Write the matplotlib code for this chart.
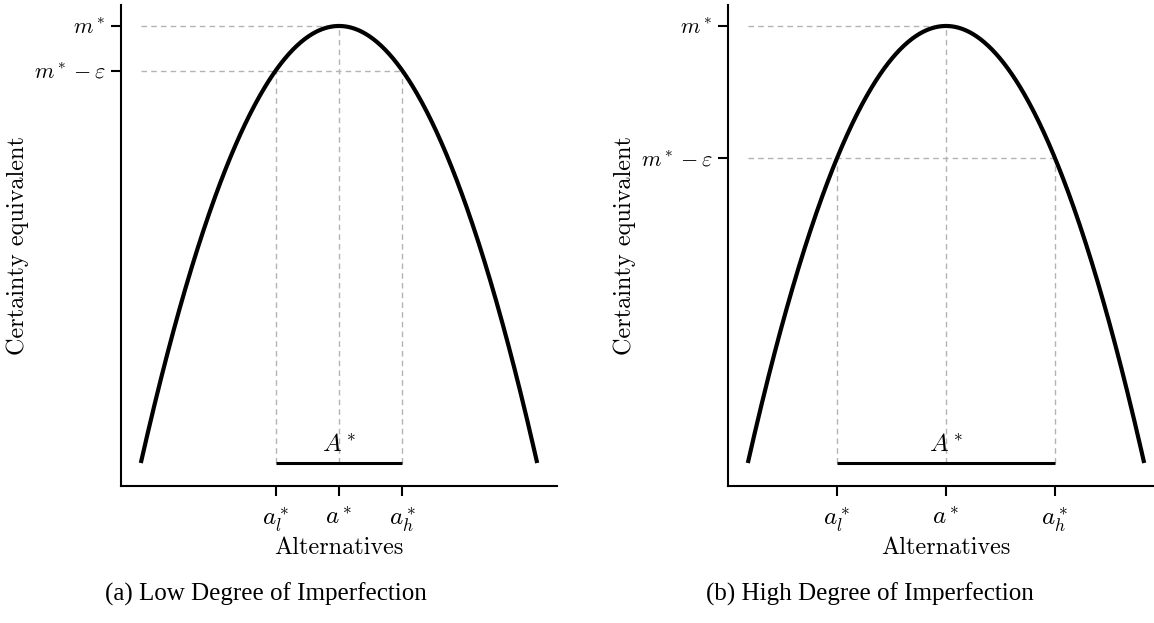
import numpy as np
import matplotlib
matplotlib.use("Agg")
import matplotlib.pyplot as plt

plt.rcParams["mathtext.fontset"] = "cm"
plt.rcParams["axes.formatter.use_mathtext"] = True

# -----------------------------
# data (alternatives on x, certainty equivalent on y)
# -----------------------------
alt_knots = [-1.0, -0.5, 0.0, 0.5, 1.0]
ce_knots = [0.0, 0.75, 1.0, 0.75, 0.0]

a_star = 0.0
m_star = 1.0

# band A* per panel: (a_l*, a_h*)
bounds_low = (-0.32, 0.32)
bounds_high = (-0.55, 0.55)

captions = ["(a) Low Degree of Imperfection", "(b) High Degree of Imperfection"]
xtick_labels = [r"$a_l^*$", r"$a^*$", r"$a_h^*$"]
ytick_labels = [r"$m^* - \varepsilon$", r"$m^*$"]

# smooth curve through the read points
coef = np.polyfit(alt_knots, ce_knots, 2)
x_curve = np.linspace(alt_knots[0], alt_knots[-1], 400)
y_curve = np.polyval(coef, x_curve)

fig = plt.figure(figsize=(11.54, 6.23), dpi=100)

W, H = 1154, 623
panels = [(121, bounds_low), (728, bounds_high)]
cap_x = [266, 870]

lab_font = dict(family="cmr10", size=17.5)
dash_kw = dict(color="#b3b3b3", lw=1.0, ls=(0, (4, 3)), zorder=1)

for i, (left_px, (a_l, a_h)) in enumerate(panels):
    ax = fig.add_axes([left_px / W, (H - 486) / H, 436 / W, 481 / H])
    ax.set_xlim(-1.1, 1.1)
    ax.set_ylim(-0.0526, 1.048)

    eps_level = np.polyval(coef, a_h)

    ax.plot(x_curve, y_curve, color="black", lw=3, solid_capstyle="butt", zorder=3)

    # guide lines
    ax.plot([alt_knots[0], a_star], [m_star, m_star], **dash_kw)
    ax.plot([alt_knots[0], a_h], [eps_level, eps_level], **dash_kw)
    ax.plot([a_star, a_star], [0, m_star], **dash_kw)
    ax.plot([a_l, a_l], [0, eps_level], **dash_kw)
    ax.plot([a_h, a_h], [0, eps_level], **dash_kw)

    # A* band
    ax.plot([a_l, a_h], [0, 0], color="black", lw=2.2, solid_capstyle="butt", zorder=3)
    ax.text(a_star, 0.015, r"$A^*$", ha="center", va="bottom", fontsize=18)

    ax.set_xticks([a_l, a_star, a_h])
    ax.set_xticklabels(xtick_labels, fontsize=18)
    ax.set_yticks([eps_level, m_star])
    ax.set_yticklabels(ytick_labels, fontsize=16)
    ax.tick_params(direction="out", length=7, width=1.5)
    ax.tick_params(axis="x", pad=7)
    ax.tick_params(axis="y", pad=4)

    for s in ["top", "right"]:
        ax.spines[s].set_visible(False)
    for s in ["left", "bottom"]:
        ax.spines[s].set_linewidth(1.5)

    ax.set_xlabel("Alternatives", fontdict=lab_font, labelpad=2)
    ax.set_ylabel("Certainty equivalent", fontdict=lab_font, va="center")
    ax.yaxis.set_label_coords(-0.236, 0.5)

    fig.text(cap_x[i] / W, 1 - 594 / H, captions[i], ha="center", va="center",
             family="Liberation Serif", size=18)

fig.savefig("out.png", dpi=100)
